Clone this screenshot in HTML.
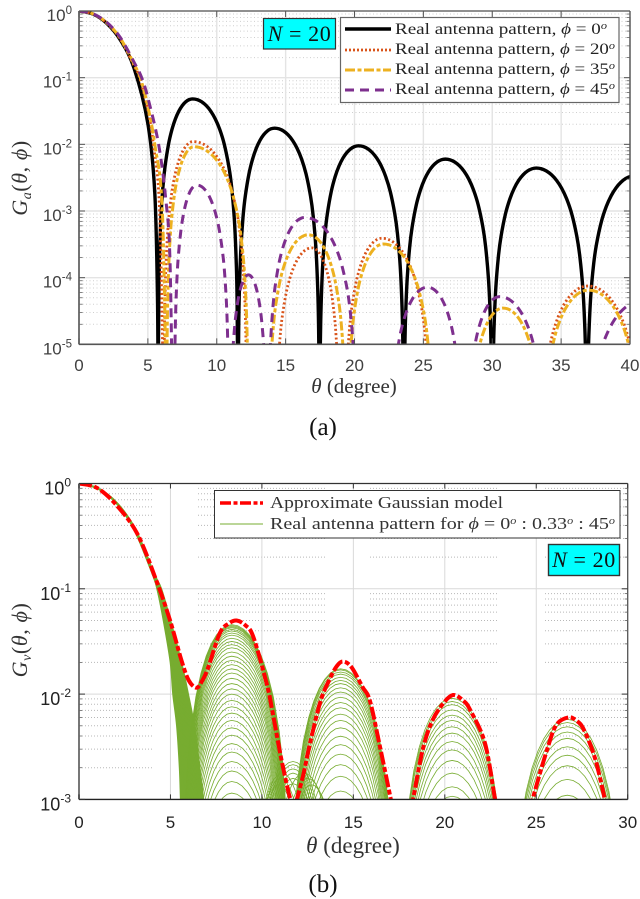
<!DOCTYPE html>
<html lang="en">
<head>
<meta charset="utf-8">
<title>Antenna pattern charts</title>
<style>
html,body{margin:0;padding:0;background:#fff;overflow:hidden;}
svg{display:block;}
text{font-family:"Liberation Sans",sans-serif;}
.serif{font-family:"Liberation Serif","DejaVu Serif",serif;}
</style>
</head>
<body>
<svg id="figure" xmlns="http://www.w3.org/2000/svg" width="640" height="899" viewBox="0 0 640 899">
  <defs>
    <clipPath id="clipA"><rect x="79" y="11" width="551" height="333.4"/></clipPath>
    <clipPath id="clipB"><rect x="79" y="483.5" width="548.7" height="315.9"/></clipPath>
  </defs>
  <rect width="640" height="899" fill="#fff"/>

  <g id="gridA"></g>
  <g id="seriesA" clip-path="url(#clipA)"></g>
  <g id="axesA"></g>

  <g>
    <rect x="340.5" y="17.5" width="278.5" height="85" fill="#fff" stroke="#666" stroke-width="1.2"/>
    <line x1="345" y1="29" x2="391" y2="29" stroke="#000" stroke-width="3.4"/>
    <line x1="345" y1="50" x2="391" y2="50" stroke="#d95319" stroke-width="2.8" stroke-dasharray="2 2"/>
    <line x1="345" y1="70" x2="391" y2="70" stroke="#edb120" stroke-width="3" stroke-dasharray="10 2.5 4 2.5"/>
    <line x1="345" y1="90" x2="391" y2="90" stroke="#7e2f8e" stroke-width="3" stroke-dasharray="9 6"/>
    <text class="serif" x="395" y="34" font-size="15.5" textLength="212" lengthAdjust="spacingAndGlyphs" fill="#222">Real antenna pattern, <tspan font-style="italic">ϕ</tspan> = 0<tspan dy="-5" font-size="10" font-style="italic">o</tspan></text>
    <text class="serif" x="395" y="54" font-size="15.5" textLength="220" lengthAdjust="spacingAndGlyphs" fill="#222">Real antenna pattern, <tspan font-style="italic">ϕ</tspan> = 20<tspan dy="-5" font-size="10" font-style="italic">o</tspan></text>
    <text class="serif" x="395" y="74" font-size="15.5" textLength="220" lengthAdjust="spacingAndGlyphs" fill="#222">Real antenna pattern, <tspan font-style="italic">ϕ</tspan> = 35<tspan dy="-5" font-size="10" font-style="italic">o</tspan></text>
    <text class="serif" x="395" y="94" font-size="15.5" textLength="220" lengthAdjust="spacingAndGlyphs" fill="#222">Real antenna pattern, <tspan font-style="italic">ϕ</tspan> = 45<tspan dy="-5" font-size="10" font-style="italic">o</tspan></text>
  </g>
  <g>
    <rect x="263.5" y="18.5" width="72" height="30.5" fill="#00ffff" stroke="#333" stroke-width="1.2"/>
    <text class="serif" x="299.5" y="41" font-size="22" letter-spacing="0.6" text-anchor="middle" fill="#111"><tspan font-style="italic">N</tspan> = 20</text>
  </g>
  <text class="serif" transform="translate(27,178) rotate(-90)" font-size="22" letter-spacing="0.6" text-anchor="middle" fill="#333"><tspan font-style="italic">G</tspan><tspan dy="4" font-size="14" font-style="italic">a</tspan><tspan dy="-4">(</tspan><tspan font-style="italic">θ</tspan>, <tspan font-style="italic">ϕ</tspan>)</text>
  <text class="serif" x="354" y="393" font-size="21" text-anchor="middle" fill="#333"><tspan font-style="italic">θ</tspan> (degree)</text>
  <text class="serif" x="323" y="435" font-size="25" text-anchor="middle" fill="#111">(a)</text>

  <g id="gridB"></g>
  <g id="seriesB" clip-path="url(#clipB)"></g>
  <g id="axesB"></g>

  <g>
    <rect x="214.5" y="490.5" width="405.5" height="47.5" fill="#fff" stroke="#333" stroke-width="1"/>
    <line x1="220" y1="503" x2="263" y2="503" stroke="#ff0000" stroke-width="3.4" stroke-dasharray="11 2.5 4 2.5"/>
    <line x1="220" y1="524" x2="263" y2="524" stroke="#77ac30" stroke-width="1"/>
    <text class="serif" x="270" y="508" font-size="16.5" textLength="233" lengthAdjust="spacingAndGlyphs" fill="#333">Approximate Gaussian model</text>
    <text class="serif" x="270" y="529" font-size="16.5" textLength="345" lengthAdjust="spacingAndGlyphs" fill="#333">Real antenna pattern for <tspan font-style="italic">ϕ</tspan> = 0<tspan dy="-5" font-size="10" font-style="italic">o</tspan><tspan dy="5"> : 0.33</tspan><tspan dy="-5" font-size="10" font-style="italic">o</tspan><tspan dy="5"> : 45</tspan><tspan dy="-5" font-size="10" font-style="italic">o</tspan></text>
  </g>
  <g>
    <rect x="548.5" y="544.5" width="71" height="31" fill="#00ffff" stroke="#333" stroke-width="1.4"/>
    <text class="serif" x="584" y="567" font-size="22" letter-spacing="0.6" text-anchor="middle" fill="#111"><tspan font-style="italic">N</tspan> = 20</text>
  </g>
  <text class="serif" transform="translate(27,640) rotate(-90)" font-size="22" letter-spacing="0.6" text-anchor="middle" fill="#333"><tspan font-style="italic">G</tspan><tspan dy="4" font-size="14" font-style="italic">v</tspan><tspan dy="-4">(</tspan><tspan font-style="italic">θ</tspan>, <tspan font-style="italic">ϕ</tspan>)</text>
  <text class="serif" x="353" y="853" font-size="23" text-anchor="middle" fill="#333"><tspan font-style="italic">θ</tspan> (degree)</text>
  <text class="serif" x="323" y="892" font-size="25" text-anchor="middle" fill="#111">(b)</text>
</svg>

<script>
// ---------- Shared lobe profile (relative gain across half a side lobe) ----------
const lobeProfileU   = [0, 0.01, 0.02, 0.04, 0.07, 0.1, 0.15, 0.2, 0.25, 0.3, 0.35, 0.4, 0.45, 0.5];
const lobeProfileRel = [0.00001, 0.00099, 0.0039, 0.0157, 0.0476, 0.0955, 0.206, 0.345, 0.5, 0.655, 0.794, 0.905, 0.976, 1];

// ---------- Panel (a) data ----------
const xTicksA = [0, 5, 10, 15, 20, 25, 30, 35, 40];
const yExponentsA = [0, -1, -2, -3, -4, -5];

const blackMainTheta = [0, 1, 2, 3, 4, 5, 5.5, 5.7, 5.74];
const blackMainGain  = [1, 0.904, 0.658, 0.368, 0.138, 0.0204, 0.0019, 0.000045, 0.000001];
const blackLobeStart = [5.74, 11.54, 17.46, 23.58, 30, 36.87];
const blackLobePeakTheta = [8.25, 14.2, 20.3, 26.6, 33.2, 40.4];
const blackLobeEnd   = [11.54, 17.46, 23.58, 30, 36.87, 44.4];
const blackLobePeak  = [0.048, 0.0175, 0.0095, 0.006, 0.0044, 0.0034];

const redMainTheta = [0, 1, 2, 3, 4, 4.4, 5, 5.4, 5.85, 6.15];
const redMainGain  = [1, 0.905, 0.665, 0.38, 0.15, 0.1, 0.033, 0.01, 0.001, 0.000001];
const redLobeStart = [6.15, 14.23, 19.27, 33.34];
const redLobePeakTheta = [8.3, 16.9, 22, 36.95];
const redLobeEnd   = [12.2, 18.95, 25.56, 40.95];
const redLobePeak  = [0.011, 0.00028, 0.00039, 0.000075];

const yellowMainTheta = [0, 1, 2, 3, 4, 4.45, 5, 5.5, 6.05, 6.35];
const yellowMainGain  = [1, 0.907, 0.67, 0.39, 0.16, 0.1, 0.037, 0.01, 0.001, 0.000001];
const yellowLobeStart = [6.35, 13.72, 19.45, 28.14, 33.5];
const yellowLobePeakTheta = [8.35, 16.65, 22.1, 30.8, 37];
const yellowLobeEnd   = [12.3, 19.42, 25.76, 33.85, 40.9];
const yellowLobePeak  = [0.0092, 0.00044, 0.00032, 0.000035, 0.000065];

const purpleMainTheta = [0, 1, 2, 3, 4, 4.55, 5, 5.78, 6.3, 6.6, 6.8];
const purpleMainGain  = [1, 0.91, 0.68, 0.4, 0.17, 0.1, 0.05, 0.01, 0.0015, 0.0002, 0.000001];
const purpleLobeStart = [6.9, 10.93, 13.71, 22.5, 28.02, 36.7];
const purpleLobePeakTheta = [8.55, 12.3, 16.4, 25.3, 30.55, 41];
const purpleLobeEnd   = [10.9, 13.67, 20.17, 27.93, 33.99, 45];
const purpleLobePeak  = [0.00245, 0.00011, 0.0008, 0.000072, 0.000052, 0.000046];

// ---------- Panel (b) data ----------
const xTicksB = [0, 5, 10, 15, 20, 25, 30];
const yExponentsB = [0, -1, -2, -3];

const gaussianTheta = [0, 1, 2.06, 3.2, 4.25, 4.98, 5.6, 6, 6.43, 6.75, 7.07, 7.7, 8.2, 8.62, 9.1, 9.53, 10.26, 10.6, 11.16, 11.7, 12.18, 12.63, 13.2, 13.7, 14.1, 14.45, 14.9, 15.5, 15.9, 16.45, 17.05, 17.4, 17.9, 18.26, 18.8, 19.3, 19.9, 20.45, 21, 21.4, 22.2, 22.75, 23.1, 24.4, 24.8, 25.6, 26.1, 26.75, 27.2, 27.6, 28.2, 28.75, 29.1];
const gaussianGain  = [1, 0.905, 0.62, 0.33, 0.117, 0.05, 0.021, 0.0135, 0.0115, 0.0135, 0.018, 0.038, 0.047, 0.05, 0.045, 0.035, 0.0126, 0.0065, 0.002, 0.0009, 0.0015, 0.0034, 0.0085, 0.0138, 0.0185, 0.0204, 0.018, 0.0117, 0.0087, 0.0032, 0.001, 0.0005, 0.0005, 0.001, 0.003, 0.0055, 0.0081, 0.0098, 0.0087, 0.007, 0.0034, 0.001, 0.0005, 0.0005, 0.001, 0.003, 0.0051, 0.006, 0.0056, 0.0046, 0.0025, 0.001, 0.0005];

const fanGain       = [1, 0.9, 0.66, 0.37, 0.14, 0.1, 0.05, 0.02, 0.01, 0.005, 0.002, 0.001, 0.0005];
const fanThetaLow   = [0, 1, 2, 3, 4, 4.27, 4.62, 5, 5.14, 5.35, 5.5, 5.56, 5.62];
const fanThetaHigh  = [0, 1.03, 2.06, 3.08, 4.1, 4.5, 5, 5.6, 5.97, 6.3, 6.6, 6.8, 6.95];
const fanWeights    = [0, 0.05, 0.1, 0.15, 0.2, 0.25, 0.3, 0.35, 0.4, 0.45, 0.5, 0.55, 0.6, 0.65, 0.7, 0.75, 0.8, 0.85, 0.9, 0.95, 1];

const lobe1Log10Peaks = [-1.34, -1.35, -1.36, -1.37, -1.385, -1.4, -1.42, -1.44, -1.47, -1.5, -1.53, -1.56, -1.6, -1.64, -1.68, -1.72, -1.76, -1.8, -1.85, -1.9, -1.95, -2, -2.06, -2.12, -2.18, -2.25, -2.32, -2.39, -2.47, -2.55, -2.64, -2.73, -2.83, -2.94];
const lobe2Log10Peaks = [-1.76, -1.77, -1.79, -1.81, -1.84, -1.87, -1.9, -1.94, -1.98, -2.03, -2.08, -2.13, -2.19, -2.25, -2.32, -2.4, -2.48, -2.57, -2.67, -2.78, -2.92];
const lobe3Log10Peaks = [-2.04, -2.07, -2.1, -2.15, -2.2, -2.25, -2.31, -2.37, -2.45, -2.53, -2.63, -2.75, -2.88, -2.97];
const lobe4Log10Peaks = [-2.24, -2.27, -2.31, -2.36, -2.42, -2.5, -2.58, -2.68, -2.81, -2.96];
const familyStart     = [5.55, 11.4, 17.41, 23.48];
const familyPeakTheta = [8.35, 14.3, 20.4, 26.7];
const familyEnd       = [11.6, 17.37, 23.52, 29.95];
const familyNarrowing = [0.012, 0.012, 0.012, 0.012];

const hatchStart     = [9.4, 9.5, 9.6, 9.7, 9.8, 9.9, 9.2, 9.3, 9.4, 10.2, 10.6, 11];
const hatchPeakTheta = [11.7, 11.7, 11.7, 11.7, 11.7, 11.7, 11.1, 11, 10.9, 12.3, 12.5, 12.7];
const hatchEnd       = [14, 13.9, 13.8, 13.7, 13.6, 13.5, 13, 12.8, 12.6, 14.4, 14.5, 14.6];
const hatchLog10Peak = [-2.64, -2.67, -2.71, -2.75, -2.8, -2.85, -2.75, -2.8, -2.86, -2.75, -2.8, -2.86];

const NS = 'http://www.w3.org/2000/svg';

// ---------- Axis functions (gain floored just below each plot so clipped paths stay on the page) ----------
function xA(t) { return 79 + t * 551 / 40; }
function yA(g) { return 11 - Math.log10(Math.max(g, 1e-6)) * 66.67; }
function xB(t) { return 79 + t * 548.7 / 30; }
function yB(g) { return 483.5 - Math.log10(Math.max(g, 5e-4)) * 105.3; }

function mk(tag, parent, attrs) {
  const el = document.createElementNS(NS, tag);
  for (const k in attrs) el.setAttribute(k, attrs[k]);
  parent.appendChild(el);
  return el;
}

function lobePoints(start, peakTheta, end, peakGain) {
  const pts = [];
  for (let i = 0; i < lobeProfileU.length; i++) {
    pts.push([start + (lobeProfileU[i] / 0.5) * (peakTheta - start), peakGain * lobeProfileRel[i]]);
  }
  for (let i = lobeProfileU.length - 2; i >= 0; i--) {
    pts.push([end - (lobeProfileU[i] / 0.5) * (end - peakTheta), peakGain * lobeProfileRel[i]]);
  }
  return pts;
}

function seriesPoints(mainT, mainG, starts, peaksT, ends, peaks) {
  let pts = mainT.map(function (t, i) { return [t, mainG[i]]; });
  for (let i = 0; i < starts.length; i++) {
    pts = pts.concat(lobePoints(starts[i], peaksT[i], ends[i], peaks[i]));
  }
  return pts;
}

function polyPath(pts, fx, fy) {
  return pts.map(function (p, i) {
    return (i ? 'L' : 'M') + fx(p[0]).toFixed(2) + ' ' + fy(p[1]).toFixed(2);
  }).join('');
}

function smoothPath(pts, fx, fy) {
  const p = pts.map(function (q) { return [fx(q[0]), fy(q[1])]; });
  let d = 'M' + p[0][0].toFixed(2) + ' ' + p[0][1].toFixed(2);
  for (let i = 0; i < p.length - 1; i++) {
    const a = p[Math.max(i - 1, 0)], b = p[i], c = p[i + 1], e = p[Math.min(i + 2, p.length - 1)];
    d += 'C' + (b[0] + (c[0] - a[0]) / 6).toFixed(2) + ' ' + (b[1] + (c[1] - a[1]) / 6).toFixed(2) + ' ' +
         (c[0] - (e[0] - b[0]) / 6).toFixed(2) + ' ' + (c[1] - (e[1] - b[1]) / 6).toFixed(2) + ' ' +
         c[0].toFixed(2) + ' ' + c[1].toFixed(2);
  }
  return d;
}

const minorFactors = [2, 3, 4, 5, 6, 7, 8, 9];

// ---------- Panel (a) ----------
(function () {
  const grid = document.getElementById('gridA');
  const axes = document.getElementById('axesA');
  const series = document.getElementById('seriesA');
  const L = xA(0), R = xA(40), T = yA(1), B = yA(1e-5);

  yExponentsA.forEach(function (e) {
    if (e > -5) {
      minorFactors.forEach(function (m) {
        const g = Math.pow(10, e - 1) * m;
        const ln = mk('line', grid, { x1: L, x2: R, y1: yA(g), y2: yA(g), stroke: '#cfcfcf', 'stroke-width': 1, 'stroke-dasharray': '1 2.5' });
        
        
      });
    }
    const maj = mk('line', grid, { x1: L, x2: R, y1: yA(Math.pow(10, e)), y2: yA(Math.pow(10, e)), stroke: '#e4e4e4', 'stroke-width': 1.4 });
    
    
  });
  xTicksA.forEach(function (t) {
    const maj = mk('line', grid, { x1: xA(t), x2: xA(t), y1: T, y2: B, stroke: '#e4e4e4', 'stroke-width': 1.4 });
    
    
  });

  const defs = [
    { name: 'curve-phi-0', pts: seriesPoints(blackMainTheta, blackMainGain, blackLobeStart, blackLobePeakTheta, blackLobeEnd, blackLobePeak), color: '#000', w: 3.4, dash: '' },
    { name: 'curve-phi-20', pts: seriesPoints(redMainTheta, redMainGain, redLobeStart, redLobePeakTheta, redLobeEnd, redLobePeak), color: '#d95319', w: 2.8, dash: '2 2.4' },
    { name: 'curve-phi-35', pts: seriesPoints(yellowMainTheta, yellowMainGain, yellowLobeStart, yellowLobePeakTheta, yellowLobeEnd, yellowLobePeak), color: '#edb120', w: 3, dash: '9 2.5 4 2.5' },
    { name: 'curve-phi-45', pts: seriesPoints(purpleMainTheta, purpleMainGain, purpleLobeStart, purpleLobePeakTheta, purpleLobeEnd, purpleLobePeak), color: '#7e2f8e', w: 3, dash: '9 6' }
  ];
  defs.forEach(function (s) {
    const p = mk('path', series, { d: smoothPath(s.pts, xA, yA), fill: 'none', stroke: s.color, 'stroke-width': s.w, 'stroke-dasharray': s.dash });
    
    
  });

  const frame = [
    [L, T, R, T, '#555', 1.3], [R, T, R, B, '#444', 1.3], [L, B, R, B, '#555', 1.6], [L, T, L, B, '#666', 1.8]
  ];
  frame.forEach(function (f) {
    const ln = mk('line', axes, { x1: f[0], y1: f[1], x2: f[2], y2: f[3], stroke: f[4], 'stroke-width': f[5] });
    
    
  });
  xTicksA.forEach(function (t) {
    const x = xA(t);
    const t1 = mk('line', axes, { x1: x, x2: x, y1: B, y2: B - 6, stroke: '#555', 'stroke-width': 1 });
    
    
    const t2 = mk('line', axes, { x1: x, x2: x, y1: T, y2: T + 6, stroke: '#555', 'stroke-width': 1 });
    
    
    const lb = mk('text', axes, { x: x, y: 371, 'text-anchor': 'middle', 'font-size': 17, fill: '#404040' });
    lb.textContent = String(t);
    
    
  });
  yExponentsA.forEach(function (e) {
    const y = yA(Math.pow(10, e));
    [[L, L + 6], [R, R - 6]].forEach(function (s) {
      const tk = mk('line', axes, { x1: s[0], x2: s[1], y1: y, y2: y, stroke: '#555', 'stroke-width': 1 });
      
      
    });
    if (e > -5) {
      minorFactors.forEach(function (m) {
        const ym = yA(Math.pow(10, e - 1) * m);
        [[L, L + 3.5], [R, R - 3.5]].forEach(function (s) {
          const tk = mk('line', axes, { x1: s[0], x2: s[1], y1: ym, y2: ym, stroke: '#666', 'stroke-width': 0.8 });
          
          
        });
      });
    }
    const lb = mk('text', axes, { x: 72, y: y + 10, 'text-anchor': 'end', 'font-size': 17, fill: '#404040' });
    
    
    const base = mk('tspan', lb, {});
    base.textContent = '10';
    const sup = mk('tspan', lb, { dy: -7, 'font-size': 11.5 });
    sup.textContent = String(e);
  });
})();

// ---------- Panel (b) ----------
(function () {
  const grid = document.getElementById('gridB');
  const axes = document.getElementById('axesB');
  const series = document.getElementById('seriesB');
  const L = xB(0), R = xB(30), T = yB(1), B = yB(1e-3);
  const dotRuns = [[79, 154], [198, 326], [370, 498], [545, 627]];

  yExponentsB.forEach(function (e) {
    if (e > -3) {
      minorFactors.forEach(function (m) {
        const g = Math.pow(10, e - 1) * m;
        dotRuns.forEach(function (r) {
          const ln = mk('line', grid, { x1: r[0], x2: r[1], y1: yB(g), y2: yB(g), stroke: '#b8b8b8', 'stroke-width': 1, 'stroke-dasharray': '1 2' });
          
          
        });
      });
    }
    const maj = mk('line', grid, { x1: L, x2: R, y1: yB(Math.pow(10, e)), y2: yB(Math.pow(10, e)), stroke: '#d9d9d9', 'stroke-width': 1 });
    
    
  });
  xTicksB.forEach(function (t) {
    const maj = mk('line', grid, { x1: xB(t), x2: xB(t), y1: T, y2: B, stroke: '#d9d9d9', 'stroke-width': 1 });
    
    
  });

  const green = '#77ac30';
  fanWeights.forEach(function (w) {
    const pts = fanGain.map(function (g, i) {
      return [fanThetaLow[i] + w * (fanThetaHigh[i] - fanThetaLow[i]), g];
    });
    const p = mk('path', series, { d: smoothPath(pts, xB, yB), fill: 'none', stroke: green, 'stroke-width': 1.6 });
    
    
  });

  [lobe1Log10Peaks, lobe2Log10Peaks, lobe3Log10Peaks, lobe4Log10Peaks].forEach(function (peaks, f) {
    peaks.forEach(function (lg, k) {
      const pts = lobePoints(familyStart[f] + k * familyNarrowing[f], familyPeakTheta[f], familyEnd[f] - k * familyNarrowing[f], Math.pow(10, lg));
      const p = mk('path', series, { d: polyPath(pts, xB, yB), fill: 'none', stroke: green, 'stroke-width': 0.8 });
      
      
    });
  });

  hatchStart.forEach(function (s, i) {
    const pts = lobePoints(s, hatchPeakTheta[i], hatchEnd[i], Math.pow(10, hatchLog10Peak[i]));
    const p = mk('path', series, { d: polyPath(pts, xB, yB), fill: 'none', stroke: green, 'stroke-width': 0.8 });
    
    
  });

  const gaussPts = gaussianTheta.map(function (t, i) { return [t, gaussianGain[i]]; });
  const gauss = mk('path', series, { d: smoothPath(gaussPts, xB, yB), fill: 'none', stroke: '#ff0000', 'stroke-width': 4, 'stroke-dasharray': '13 2.5 5 2.5' });
  
  

  const frame = [
    [L, T, R, T, '#333', 1.2], [R, T, R, B, '#555', 1.3], [L, B, R, B, '#222', 1.4], [L, T, L, B, '#777', 2]
  ];
  frame.forEach(function (f) {
    const ln = mk('line', axes, { x1: f[0], y1: f[1], x2: f[2], y2: f[3], stroke: f[4], 'stroke-width': f[5] });
    
    
  });
  xTicksB.forEach(function (t) {
    const x = xB(t);
    const t1 = mk('line', axes, { x1: x, x2: x, y1: B, y2: B - 5, stroke: '#333', 'stroke-width': 1 });
    
    
    const t2 = mk('line', axes, { x1: x, x2: x, y1: T, y2: T + 5, stroke: '#333', 'stroke-width': 1 });
    
    
    const lb = mk('text', axes, { x: x, y: 828, 'text-anchor': 'middle', 'font-size': 17, fill: '#222' });
    lb.textContent = String(t);
    
    
  });
  yExponentsB.forEach(function (e) {
    const y = yB(Math.pow(10, e));
    [[L, L + 6], [R, R - 6]].forEach(function (s) {
      const tk = mk('line', axes, { x1: s[0], x2: s[1], y1: y, y2: y, stroke: '#333', 'stroke-width': 1 });
      
      
    });
    if (e > -3) {
      minorFactors.forEach(function (m) {
        const ym = yB(Math.pow(10, e - 1) * m);
        [[L, L + 3], [R, R - 3]].forEach(function (s) {
          const tk = mk('line', axes, { x1: s[0], x2: s[1], y1: ym, y2: ym, stroke: '#666', 'stroke-width': 0.8 });
          
          
        });
      });
    }
    const lb = mk('text', axes, { x: 71, y: y + 11, 'text-anchor': 'end', 'font-size': 18, fill: '#222' });
    
    
    const base = mk('tspan', lb, {});
    base.textContent = '10';
    const sup = mk('tspan', lb, { dy: -8, 'font-size': 12 });
    sup.textContent = String(e);
  });
})();
</script>
</body>
</html>
